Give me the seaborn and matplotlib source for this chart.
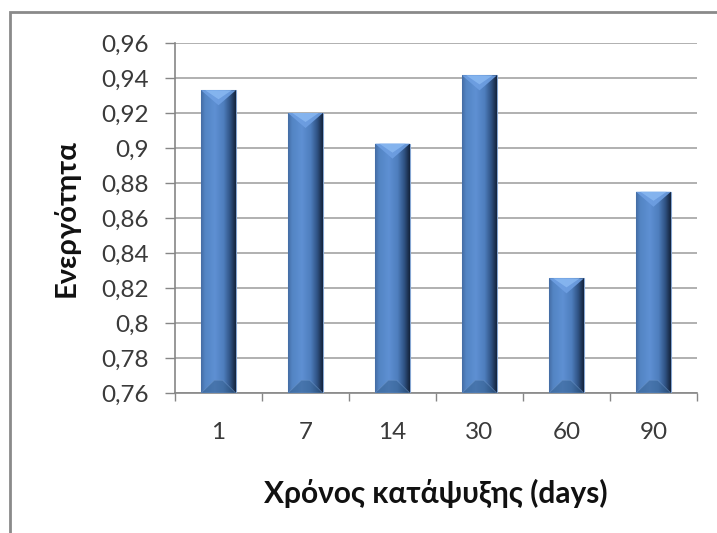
import numpy as np
import pandas as pd
import matplotlib
matplotlib.use("Agg")
import matplotlib.pyplot as plt
import seaborn as sns
from matplotlib.colors import LinearSegmentedColormap
from matplotlib.patches import Polygon, Rectangle
from matplotlib.ticker import FuncFormatter

# Freezing time (days) and measured activity
days = ["1", "7", "14", "30", "60", "90"]
activity = [0.933, 0.920, 0.9025, 0.9415, 0.8255, 0.875]
y_ticks = [0.76, 0.78, 0.80, 0.82, 0.84, 0.86, 0.88, 0.90, 0.92, 0.94, 0.96]
x_title = "Χρόνος κατάψυξης (days)"
y_title = "Ενεργότητα"

sns.set_theme(style="white")
plt.rcParams["font.family"] = ["Lato", "DejaVu Sans"]

df = pd.DataFrame({"days": days, "activity": activity})

W, H = 717, 533
fig = plt.figure(figsize=(W / 100, H / 100), dpi=100)
fig.patch.set_facecolor("white")
ax = fig.add_axes([175 / W, 1 - 393 / H, 522 / W, 350 / H])

sns.barplot(data=df, x="days", y="activity", order=days, width=0.4,
            color="#4f81bd", edgecolor="#86a6d2", linewidth=0.8,
            ax=ax, zorder=3)

y_lo, y_hi = y_ticks[0], y_ticks[-1]
ax.set_xlim(-0.5, len(days) - 0.5)
ax.set_ylim(y_lo, y_hi)

# cylinder-like horizontal shading across every bar
shade = LinearSegmentedColormap.from_list(
    "shade",
    [(0.0, "#446ca3"), (0.12, "#5385c4"), (0.4, "#5e90d3"),
     (0.65, "#4e7ebd"), (0.84, "#2f5283"), (1.0, "#13223a")])
grad = np.linspace(0, 1, 256).reshape(1, -1)

# bevel height in data units (about 15 px)
unit_px = ax.transData.transform((0, 1))[1] - ax.transData.transform((0, 0))[1]
bevel = 15 / unit_px

for p in list(ax.patches):
    x0 = p.get_x()
    w = p.get_width()
    top = p.get_y() + p.get_height()
    xc = x0 + w / 2
    im = ax.imshow(grad, extent=(x0, x0 + w, y_lo, top), cmap=shade,
                   aspect="auto", interpolation="bilinear", zorder=3.2)
    im.set_clip_path(p)
    # light chamfer on the top face
    ax.add_patch(Polygon([(x0, top), (x0 + w, top), (xc, top - bevel)],
                         closed=True, facecolor="#6e9fe2", edgecolor="none",
                         alpha=0.9, zorder=3.4))
    ax.add_patch(Polygon([(x0 + w * 0.12, top), (x0 + w * 0.88, top),
                          (xc, top - bevel * 0.6)],
                         closed=True, facecolor="#8dbcf4", edgecolor="none",
                         alpha=0.75, zorder=3.5))
    # darker chamfer at the base
    ax.add_patch(Polygon([(x0, y_lo), (x0 + w, y_lo),
                          (x0 + w * 0.62, y_lo + bevel * 0.85),
                          (x0 + w * 0.38, y_lo + bevel * 0.85)],
                         closed=True, facecolor="#35608f", edgecolor="#6d95c8",
                         linewidth=0.6, alpha=0.55, zorder=3.4))

ax.set_xlim(-0.5, len(days) - 0.5)
ax.set_ylim(y_lo, y_hi)

# axes styling
ax.set_axisbelow(True)
ax.yaxis.grid(True, color="#b0b0b0", linewidth=1.4)
ax.xaxis.grid(False)
for side in ("top", "right"):
    ax.spines[side].set_visible(False)
for side in ("left", "bottom"):
    ax.spines[side].set_visible(True)
    ax.spines[side].set_color("#868686")
    ax.spines[side].set_linewidth(1.2)

ax.set_yticks(y_ticks)
ax.yaxis.set_major_formatter(FuncFormatter(lambda v, _: f"{v:g}".replace(".", ",")))
ax.tick_params(axis="y", which="major", direction="out", length=7, width=1,
               color="#868686", pad=12, labelsize=17.5, labelcolor="#3a3a3a", left=True)
ax.set_xticks(np.arange(len(days) + 1) - 0.5, minor=True)
ax.tick_params(axis="x", which="minor", direction="out", length=6, width=1,
               color="#868686", bottom=True)
ax.tick_params(axis="x", which="major", length=0, pad=21, labelsize=17.5,
               labelcolor="#3a3a3a")

ax.set_xlabel(x_title, fontsize=21.5, fontweight="bold", color="#111111")
ax.set_ylabel(y_title, fontsize=21, fontweight="bold", color="#111111")
ax.xaxis.set_label_coords(0.5, -0.245)
ax.yaxis.set_label_coords(-0.182, 0.5)

# chart frame
fig.patches.append(Rectangle((10 / W, -0.05), 1.1, 1 - 12 / H + 0.05,
                             transform=fig.transFigure, fill=False,
                             edgecolor="#8a8a8a", linewidth=2))

fig.savefig("out.png", dpi=100)
